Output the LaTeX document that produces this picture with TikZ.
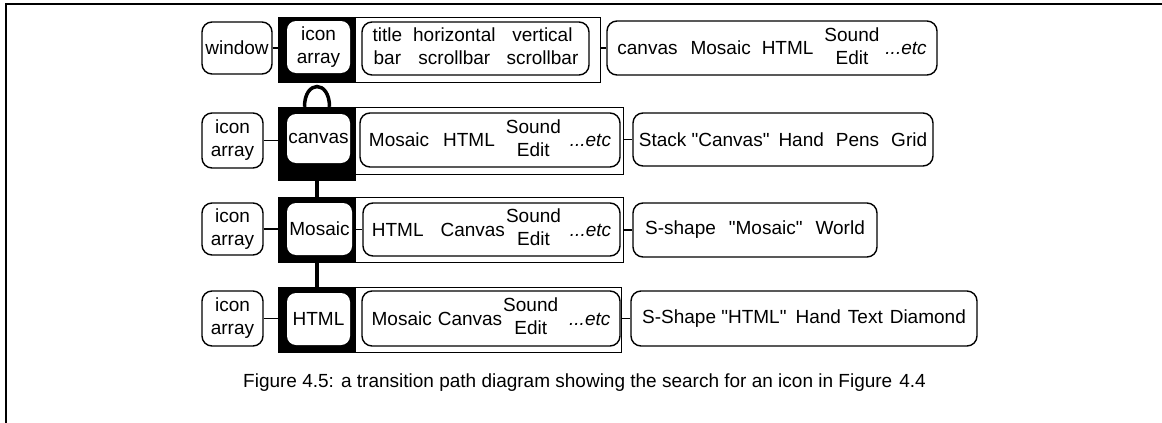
\documentclass[tikz,border=0pt]{standalone}
\usepackage{fontspec}
\setmainfont{Liberation Sans}[Ligatures=TeXOff]
\newcommand\mkbox[7]{\node[#2, minimum width={(#5-#3)*1pt}, minimum height={(#6-#4)*1pt}] (#1) at ({(#3+#5)/2},{(#4+#6)/2}) {#7};}
\newcommand\soundedit{\raisebox{2.5pt}{\fontsize{19}{23}\selectfont\begin{tabular}[c]{@{}c@{}}Sound\\Edit\end{tabular}}}
\newcommand\g[1]{\hspace{#1pt}}
\newcommand\qq{\symbol{34}}
\begin{document}
\begin{tikzpicture}[x=1pt,y=-1pt,
  txt/.style={inner sep=0pt, align=center, font=\fontsize{19}{23}\selectfont},
  rbox/.style={txt, draw, rounded corners=10pt, line width=1.4pt},
  blkbox/.style={fill=black, inner sep=0pt},
  inbox/.style={txt, fill=white, rounded corners=9pt},
  outerbox/.style={draw, line width=0.9pt, inner sep=0pt},
  conn/.style={line width=1.4pt},
  thickconn/.style={line width=3.5pt},
  frame/.style={line width=1.5pt}]
\useasboundingbox (0,0) rectangle (1162,423);
\coordinate (fbl) at (6,423);
\coordinate (ftl) at (6,4);
\coordinate (ftr) at (1162,4);
\draw[frame] (fbl) -- (ftl) -- (ftr);

% Row 1
\mkbox{win}{rbox}{202}{22}{272}{74}{window}
\mkbox{out1}{outerbox}{278}{17}{600}{82}{}
\mkbox{blk1}{blkbox}{278}{17}{356}{83}{}
\mkbox{in1}{inbox}{287}{21}{350}{73}{icon\\array}
\mkbox{opt1}{rbox}{362}{22}{589}{75}{\begin{tabular}{@{}c@{\g{11}}c@{\g{11}}c@{}}title & horizontal & vertical\\[0pt] bar & scrollbar & scrollbar\end{tabular}}
\mkbox{res1}{rbox}{607}{21}{937}{75}{canvas\g{13}Mosaic\g{11}HTML\g{11}\soundedit\g{6}\textit{...etc}}
\draw[conn] (win.east) -- (win.east -| blk1.west);
\draw[conn] (out1.east |- res1.west) -- (res1.west);

% Row 2
\mkbox{ia2}{rbox}{202}{113}{263}{168}{icon\\array}
\mkbox{out2}{outerbox}{278}{107}{623}{174}{}
\mkbox{blk2}{blkbox}{278}{107}{356}{181}{}
\mkbox{in2}{inbox}{287}{114}{350}{163}{canvas}
\mkbox{opt2}{rbox}{360}{113}{620}{167}{Mosaic\g{14}HTML\g{11}\soundedit\g{9}\textit{...etc}}
\mkbox{res2}{rbox}{633}{113}{933}{166}{Stack \qq Canvas\qq\g{9}Hand\g{12}Pens\g{12}Grid}
\draw[conn] (ia2.east) -- (ia2.east -| blk2.west);
\draw[conn] (out2.east |- res2.west) -- (res2.west);

% Row 3
\mkbox{ia3}{rbox}{202}{203}{263}{255}{icon\\array}
\mkbox{out3}{outerbox}{278}{197}{623}{262}{}
\mkbox{blk3}{blkbox}{278}{197}{356}{263}{}
\mkbox{in3}{inbox}{287}{203}{352}{255}{Mosaic}
\mkbox{opt3}{rbox}{363}{203}{620}{256}{HTML\g{17}Canvas\g{1}\soundedit\g{9}\textit{...etc}}
\mkbox{res3}{rbox}{633}{203}{877}{257}{S-shape\g{13}\qq Mosaic\qq\g{13}World}
\draw[conn] (ia3.east) -- (ia3.east -| blk3.west);
\draw[conn] (blk3.east |- opt3.west) -- (opt3.west);
\draw[conn] (out3.east |- res3.west) -- (res3.west);

% Row 4
\mkbox{ia4}{rbox}{202}{291}{263}{346}{icon\\array}
\mkbox{out4}{outerbox}{278}{287}{621}{352}{}
\mkbox{blk4}{blkbox}{278}{287}{356}{353}{}
\mkbox{in4}{inbox}{287}{293}{350}{345}{HTML}
\mkbox{opt4}{rbox}{362}{291}{620}{346}{Mosaic\g{6}Canvas\g{1}\soundedit\g{11}\textit{...etc}}
\mkbox{res4}{rbox}{631}{291}{977}{346}{S-Shape \qq HTML\qq\g{9}Hand\g{7}Text\g{7}Diamond}
\draw[conn] (ia4.east) -- (ia4.east -| blk4.west);
\draw[conn] (out4.east |- res4.west) -- (res4.west);

% thick links
\draw[thickconn] ([xshift=-12.5pt]blk2.north) .. controls +(0,-27) and +(0,-27) .. ([xshift=12.5pt]blk2.north);
\draw[thickconn] (blk2.south) -- (blk3.north);
\draw[thickconn] (blk3.south) -- (blk4.north);

% caption
\node[txt] (cap) at (584.5,383) {Figure 4.5: a transition path diagram showing the search for an icon in Figure\g{7}4.4};
\end{tikzpicture}
\end{document}
